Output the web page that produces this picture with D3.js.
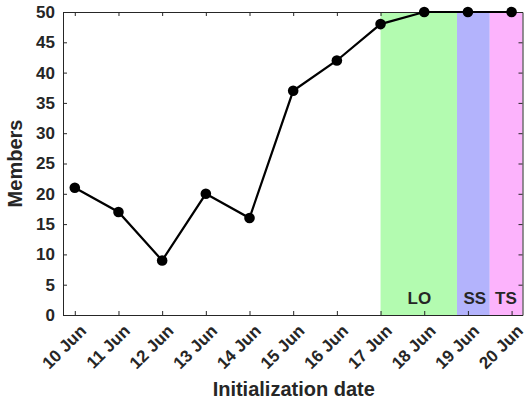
<!DOCTYPE html>
<html><head><meta charset="utf-8">
<script src="https://cdn.jsdelivr.net/npm/d3@7"></script>
<style>body{margin:0;background:#fff}svg{display:block}</style>
</head><body>
<script>
const dates = ["10 Jun","11 Jun","12 Jun","13 Jun","14 Jun","15 Jun","16 Jun","17 Jun","18 Jun","19 Jun","20 Jun"];
const members = [21,17,9,20,16,37,42,48,50,50,50];
const yTicks = [0,5,10,15,20,25,30,35,40,45,50];
const phases = ["LO","SS","TS"];
const phaseStart = [7, 8.75, 9.5];
const phaseEnd = [8.75, 9.5, 10.27];
const phaseLabelX = [7.89, 9.16, 9.87];
const phaseColors = ["#b3fbb0","#b3b3fc","#fcb3fc"];

const W=529,H=400, L=63, R=522.5, T=12, B=315;
const font = "'Liberation Sans', Arial, sans-serif";
const svg = d3.select("body").append("svg").attr("width",W).attr("height",H);
const x = d3.scaleLinear().domain([-0.27,10.25]).range([L,R]);
const y = d3.scaleLinear().domain([0,50]).range([B,T]);

svg.selectAll("rect.ph").data(phases).enter().append("rect")
  .attr("x",(d,i)=>x(phaseStart[i])).attr("y",T)
  .attr("width",(d,i)=>x(Math.min(phaseEnd[i],10.25))-x(phaseStart[i]))
  .attr("height",B-T).attr("fill",(d,i)=>phaseColors[i]);

svg.selectAll("text.ph").data(phases).enter().append("text")
  .attr("x",(d,i)=>x(phaseLabelX[i])).attr("y",304)
  .attr("text-anchor","middle").attr("font-family",font).attr("font-weight","bold")
  .attr("font-size",17).attr("fill","#262626").text(d=>d);

const ax = "#262626";
const gx = svg.append("g").attr("transform",`translate(0,${B})`)
  .call(d3.axisBottom(x).tickValues(d3.range(dates.length)).tickFormat(i=>dates[i]).tickSizeInner(-4).tickSizeOuter(0));
gx.selectAll("text").attr("font-family",font).attr("font-weight","bold").attr("font-size",17).attr("fill",ax)
  .attr("text-anchor","end").attr("x",0).attr("y",0).attr("dx",0).attr("dy",0)
  .attr("transform","translate(12,17) rotate(-45)");
const gxt = svg.append("g").attr("transform",`translate(0,${T})`)
  .call(d3.axisTop(x).tickValues(d3.range(dates.length)).tickFormat("").tickSizeInner(-4).tickSizeOuter(0));
const gy = svg.append("g").attr("transform",`translate(${L},0)`)
  .call(d3.axisLeft(y).tickValues(yTicks).tickSizeInner(-4).tickSizeOuter(0).tickPadding(8));
gy.selectAll("text").attr("font-family",font).attr("font-weight","bold").attr("font-size",17).attr("fill",ax);
const gyr = svg.append("g").attr("transform",`translate(${R},0)`)
  .call(d3.axisRight(y).tickValues(yTicks).tickFormat("").tickSizeInner(-4).tickSizeOuter(0));
[gx,gxt,gy,gyr].forEach(g=>{g.select(".domain").attr("stroke",ax).attr("stroke-width",1);g.selectAll(".tick line").attr("stroke",ax);});

svg.append("path").datum(members)
  .attr("d",d3.line().x((d,i)=>x(i)).y(d=>y(d)))
  .attr("fill","none").attr("stroke","#000").attr("stroke-width",2.2);
svg.selectAll("circle.pt").data(members).enter().append("circle")
  .attr("cx",(d,i)=>x(i)).attr("cy",d=>y(d)).attr("r",5.3).attr("fill","#000");

svg.append("text").attr("transform",`translate(22,${(T+B)/2}) rotate(-90)`)
  .attr("text-anchor","middle").attr("font-family",font).attr("font-weight","bold")
  .attr("font-size",20).attr("fill",ax).text("Members");
svg.append("text").attr("x",(L+R)/2+1).attr("y",396)
  .attr("text-anchor","middle").attr("font-family",font).attr("font-weight","bold")
  .attr("font-size",20).attr("fill",ax).text("Initialization date");
</script>
</body></html>
